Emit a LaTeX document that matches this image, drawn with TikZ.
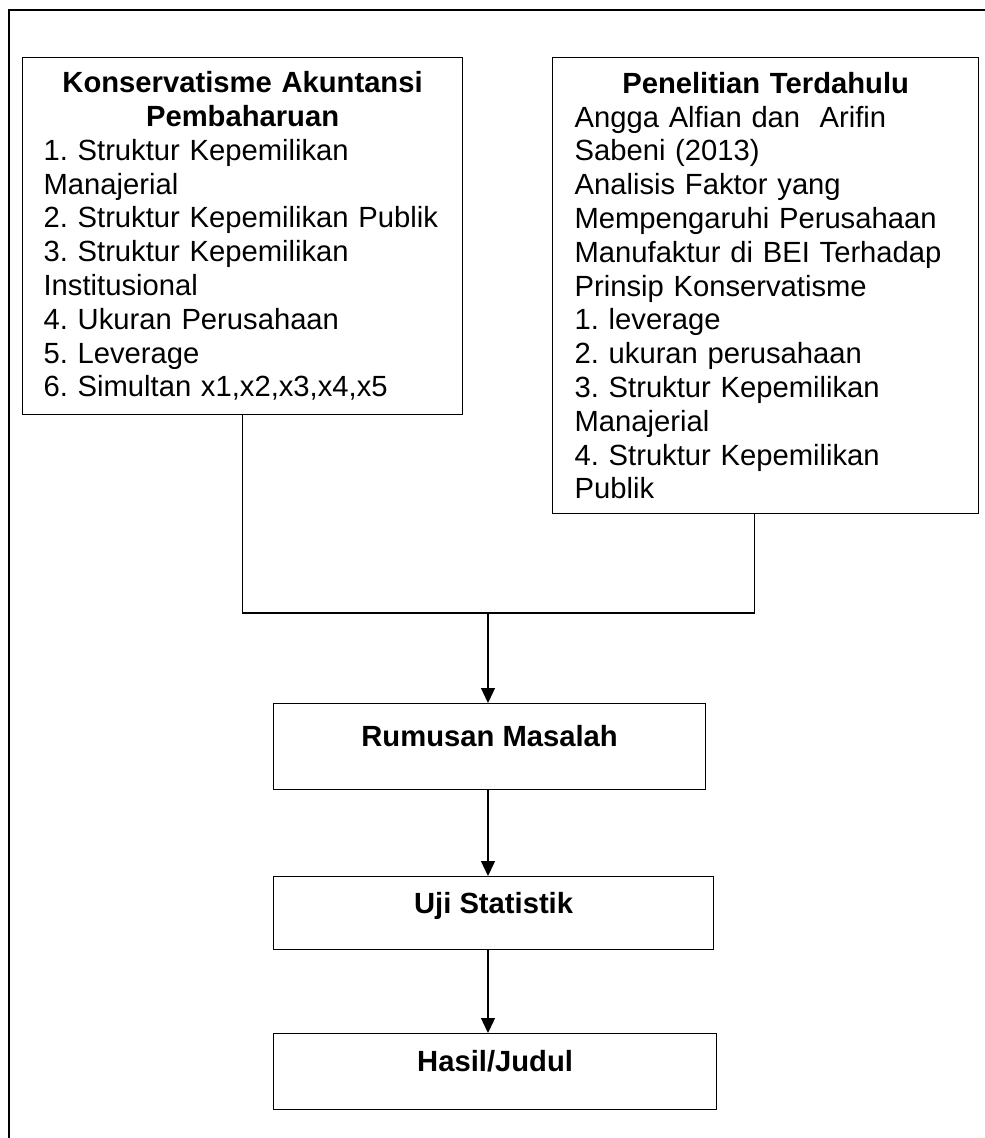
\documentclass[tikz,border=0pt]{standalone}
\usepackage{fontspec}
\setmainfont{Liberation Sans}
\usepackage{tikz}
\usetikzlibrary{arrows.meta,positioning}
\frenchspacing

\begin{document}
\begin{tikzpicture}[
  x=0.5pt, y=-0.5pt,
  every node/.style={font=\fontsize{14.6}{16.9}\selectfont},
  kotak/.style={draw, line width=0.6pt, anchor=north west, align=left},
  tahap/.style={draw, line width=0.6pt, anchor=north west, align=center, font=\fontsize{14.6}{16.9}\selectfont\bfseries, text height=10.5pt, text depth=10.5pt},
  garis/.style={line width=0.65pt},
  panah/.style={-{Triangle[length=7.5pt, width=7pt]}, line width=0.65pt},
  bingkai/.style={line width=1pt}
]
\useasboundingbox (0,0) rectangle (984,1138);
\draw[bingkai] (9,10) rectangle (1010,1160);

\node[kotak, text width=199pt, inner xsep=10.5pt, minimum height=178.5pt] (kiri) at (22,57)
  {{\centering\bfseries Konservatisme Akuntansi\\Pembaharuan\par}
   1. Struktur Kepemilikan\\Manajerial\\2. Struktur Kepemilikan Publik\\3. Struktur Kepemilikan\\Institusional\\4. Ukuran Perusahaan\\5. Leverage\\6. Simultan x1,x2,x3,x4,x5};
\node[kotak, text width=191pt, inner xsep=11pt, minimum height=228pt] (kanan) at (552,57)
  {{\centering\bfseries Penelitian Terdahulu\par}
   Angga Alfian dan\ \ Arifin\\Sabeni (2013)\\Analisis Faktor yang\\Mempengaruhi Perusahaan\\Manufaktur di BEI Terhadap\\Prinsip Konservatisme\\1. leverage\\2. ukuran perusahaan\\3. Struktur Kepemilikan\\Manajerial\\4. Struktur Kepemilikan\\Publik};

\node[tahap, minimum width=216pt, minimum height=43pt] (rumusan) at (273,703) {Rumusan Masalah};
\node[tahap, minimum width=220pt, minimum height=36.5pt] (uji) at (273,876) {Uji Statistik};
\node[tahap, minimum width=221.5pt, minimum height=38pt] (hasil) at (273,1033) {Hasil/Judul};

\coordinate (gabung) at (488,613);
\coordinate (tkanan) at ([xshift=-5.5pt]kanan.south);

\draw[garis] (kiri.south) |- (gabung) -| (tkanan);
\draw[panah] (gabung) -- (gabung |- rumusan.north);
\draw[panah] (gabung |- rumusan.south) -- (gabung |- uji.north);
\draw[panah] (gabung |- uji.south) -- (gabung |- hasil.north);
\end{tikzpicture}
\end{document}
